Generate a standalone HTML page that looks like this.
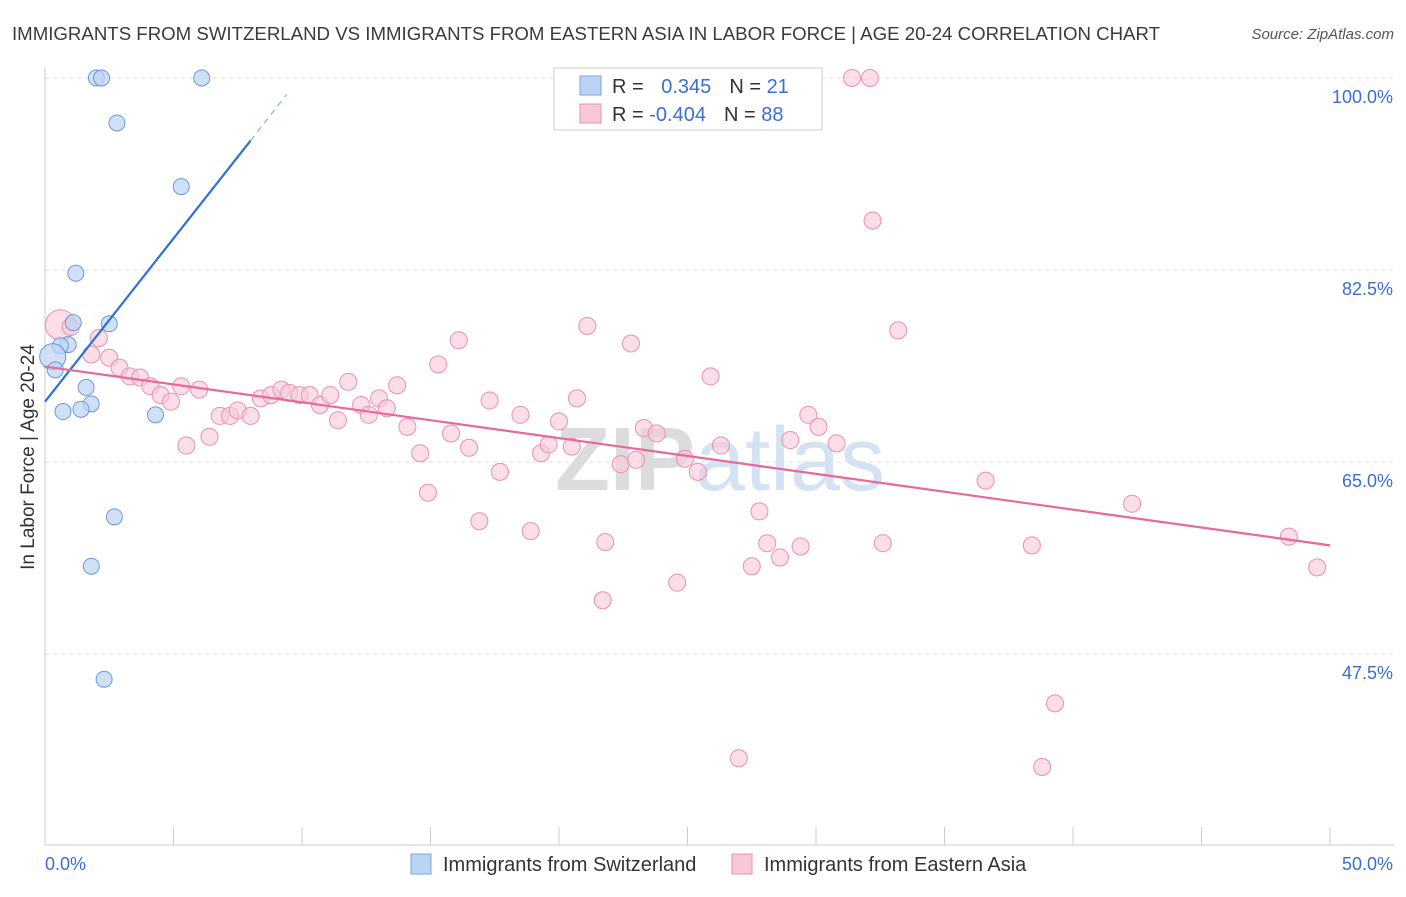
<!DOCTYPE html>
<html><head><meta charset="utf-8"><style>
body{margin:0;background:#fff;font-family:"Liberation Sans",sans-serif;}
svg text{font-family:"Liberation Sans",sans-serif;}
</style></head><body>
<svg id="chart" width="1406" height="892">
<text x="12" y="40" font-size="18" fill="#3a3a3a" textLength="1148" lengthAdjust="spacingAndGlyphs">IMMIGRANTS FROM SWITZERLAND VS IMMIGRANTS FROM EASTERN ASIA IN LABOR FORCE | AGE 20-24 CORRELATION CHART</text>
<text x="1394" y="39" font-size="15" fill="#555" font-style="italic" text-anchor="end">Source: ZipAtlas.com</text>
<text x="720" y="490" font-size="90" fill="#e4e4e4" text-anchor="middle" font-family="Liberation Serif"><tspan fill="#dcdcdc" font-weight="bold">ZIP</tspan><tspan fill="#d4e2f4" font-family="Liberation Sans">atlas</tspan></text>
<g id="grid"></g><g id="axes"></g><g id="marks"></g>
<text transform="translate(34,457) rotate(-90)" font-size="19" fill="#333" text-anchor="middle">In Labor Force | Age 20-24</text>
<g>
<rect x="554" y="68" width="268" height="62" fill="#fff" stroke="#ccc"/>
<rect x="580" y="76" width="21" height="19" fill="#bcd4f4" stroke="#7aa3e0"/>
<rect x="580" y="104" width="21" height="19" fill="#f9c8d8" stroke="#e890b0"/>
<text x="612" y="93" font-size="20" fill="#333">R = <tspan fill="#3a6fd0" dx="12">0.345</tspan><tspan dx="18" fill="#333">N = </tspan><tspan fill="#3a6fd0">21</tspan></text>
<text x="612" y="121" font-size="20" fill="#333">R = <tspan fill="#3a6fd0">-0.404</tspan><tspan dx="18" fill="#333">N = </tspan><tspan fill="#3a6fd0">88</tspan></text>
</g>
<g>
<rect x="411" y="854" width="20" height="20" fill="#bcd4f4" stroke="#7aa3e0"/>
<text x="443" y="871" font-size="20" fill="#333">Immigrants from Switzerland</text>
<rect x="732" y="854" width="20" height="20" fill="#f9c8d8" stroke="#e890b0"/>
<text x="764" y="871" font-size="20" fill="#333">Immigrants from Eastern Asia</text>
</g>
</svg>
<script>
const yTicks=[47.5,65.0,82.5,100.0];
const xTickLabels=["0.0%","50.0%"];
const blueX=[2.0,2.2,6.1,2.8,5.3,1.2,1.1,2.5,0.9,0.6,0.3,0.4,1.6,1.8,0.7,1.4,4.3,2.7,1.8,2.3];
const blueY=[100,100,100,95.9,90.1,82.2,77.7,77.6,75.7,75.6,74.6,73.4,71.8,70.3,69.6,69.8,69.3,60.0,55.5,45.2];
const pinkX=[31.4,32.1,32.2,33.2,0.6,1.0,2.1,1.8,2.5,2.9,3.3,3.7,4.1,4.5,4.9,5.3,6.0,5.5,6.4,6.8,7.2,7.5,8.0,8.4,8.8,9.2,9.5,9.9,10.3,10.7,11.1,11.4,11.8,12.3,12.6,13.0,13.3,13.7,14.1,14.6,14.9,15.3,15.8,16.1,16.5,16.9,17.3,17.7,18.5,18.9,19.3,19.6,20.0,20.5,20.7,21.1,21.7,21.8,22.4,22.8,23.0,23.3,23.8,24.6,24.9,25.4,25.9,26.3,27.5,27.8,28.1,28.6,29.0,29.4,29.7,30.1,30.8,32.6,36.6,38.4,39.3,38.8,42.3,48.4,49.5,27.0];
const pinkY=[100,100,87.0,77.0,77.5,77.3,76.3,74.8,74.5,73.6,72.8,72.7,71.9,71.1,70.5,71.9,71.6,66.5,67.3,69.2,69.2,69.7,69.2,70.8,71.1,71.6,71.3,71.1,71.1,70.2,71.1,68.8,72.3,70.2,69.3,70.8,69.9,72.0,68.2,65.8,62.2,73.9,67.6,76.1,66.3,59.6,70.6,64.1,69.3,58.7,65.8,66.6,68.7,66.4,70.8,77.4,52.4,57.7,64.8,75.8,65.2,68.1,67.6,54.0,65.3,64.1,72.8,66.5,55.5,60.5,57.6,56.3,67.0,57.3,69.3,68.2,66.7,57.6,63.3,57.4,43.0,37.2,61.2,58.2,55.4,38.0];
const blueTrend=[0,70.5,8.0,94.3,9.4,98.5];
const pinkTrend=[0,73.7,50,57.4];

const NS="http://www.w3.org/2000/svg";
const X=v=>45+v*1285/50;
const Y=v=>462-(v-65)*192/17.5;
function el(tag,attrs,parent){const e=document.createElementNS(NS,tag);for(const k in attrs)e.setAttribute(k,attrs[k]);document.getElementById(parent).appendChild(e);return e;}
yTicks.forEach(t=>{
 const g=el('line',{x1:45,x2:1394,y1:Y(t),y2:Y(t),stroke:'#ddd','stroke-dasharray':'4,4'},'grid');
 
 
 const l=el('text',{x:1393,y:Y(t)+25,'font-size':18,fill:'#3a6fd0','text-anchor':'end'},'axes');
 l.textContent=t.toFixed(1)+'%';
 
 
});
let a=el('line',{x1:45,x2:45,y1:68,y2:845,stroke:'#ccc'},'axes');


a=el('line',{x1:45,x2:1394,y1:845,y2:845,stroke:'#ccc'},'axes');


for(let i=0;i<=10;i++){const t=el('line',{x1:X(i*5),x2:X(i*5),y1:827,y2:845,stroke:'#ccc'},'axes');
 
 }
xTickLabels.forEach((s,i)=>{const t=el('text',{x:i?1393:45,y:870,'font-size':18,fill:'#3a6fd0','text-anchor':i?'end':'start'},'axes');t.textContent=s;
 
 });
pinkX.forEach((x,i)=>{const big=(i==4);const c=el('circle',{cx:X(x),cy:Y(pinkY[i]),r:big?15:8.5,fill:'#f9c8d8','fill-opacity':0.6,stroke:'#e890b0','stroke-width':1},'marks');
 
 });
blueX.forEach((x,i)=>{const big=(i==10);const c=el('circle',{cx:X(x),cy:Y(blueY[i]),r:big?13:8,fill:'#bcd4f4','fill-opacity':0.7,stroke:'#6a98dc','stroke-width':1},'marks');
 
 });
let ln=el('line',{x1:X(blueTrend[0]),y1:Y(blueTrend[1]),x2:X(blueTrend[2]),y2:Y(blueTrend[3]),stroke:'#2f6fd6','stroke-width':2.2},'marks');


ln=el('line',{x1:X(blueTrend[2]),y1:Y(blueTrend[3]),x2:X(blueTrend[4]),y2:Y(blueTrend[5]),stroke:'#8aaee6','stroke-width':1.2,'stroke-dasharray':'6,5'},'marks');


ln=el('line',{x1:X(pinkTrend[0]),y1:Y(pinkTrend[1]),x2:X(pinkTrend[2]),y2:Y(pinkTrend[3]),stroke:'#e8689a','stroke-width':2.2},'marks');


</script>
</body></html>
